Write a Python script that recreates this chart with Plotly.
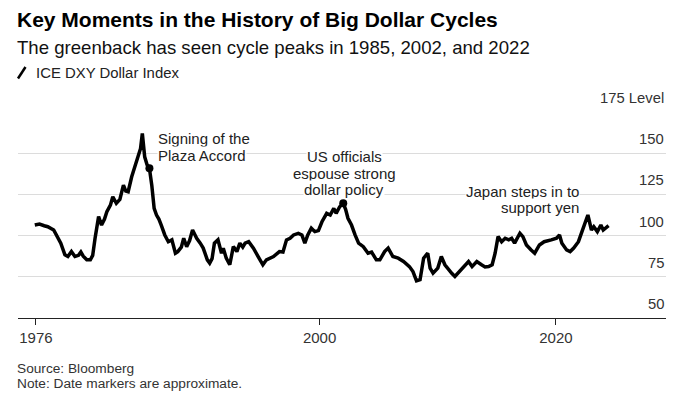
import plotly.graph_objects as go

# ---- data ----
years = [1975.9, 1976.3, 1976.7, 1977.0, 1977.5, 1977.9, 1978.1, 1978.45, 1978.7, 1979.0,
         1979.3, 1979.6, 1979.8, 1980.0, 1980.3, 1980.6, 1980.8, 1981.0, 1981.3, 1981.55,
         1981.8, 1982.0, 1982.3, 1982.5, 1982.8, 1983.1, 1983.4, 1983.6, 1983.8, 1984.1,
         1984.4, 1984.65, 1984.85, 1985.0, 1985.1, 1985.2, 1985.4, 1985.6, 1985.8, 1986.0,
         1986.2, 1986.4, 1986.6, 1986.9, 1987.2, 1987.5, 1987.8, 1988.0, 1988.3, 1988.5,
         1988.75, 1989.0, 1989.25, 1989.6, 1989.9, 1990.15, 1990.5, 1990.7, 1990.9, 1991.1,
         1991.4, 1991.7, 1991.85, 1992.1, 1992.4, 1992.7, 1993.0, 1993.25, 1993.5, 1993.7,
         1994.0, 1994.4, 1994.8, 1995.2, 1995.5, 1996.1, 1996.6, 1996.9, 1997.2, 1997.5,
         1997.8, 1998.2, 1998.5, 1998.75, 1999.0, 1999.3, 1999.6, 1999.9, 2000.2, 2000.6,
         2000.9, 2001.2, 2001.4, 2001.7, 2002.0, 2002.2, 2002.4, 2002.7, 2003.0, 2003.3,
         2003.7, 2004.1, 2004.4, 2004.8, 2005.1, 2005.5, 2005.8, 2006.2, 2006.65, 2007.1,
         2007.6, 2007.9, 2008.2, 2008.5, 2008.8, 2009.0, 2009.15, 2009.35, 2009.6, 2010.0,
         2010.3, 2010.6, 2010.9, 2011.2, 2011.45, 2011.7, 2012.15, 2012.6, 2012.9, 2013.3,
         2013.7, 2014.0, 2014.3, 2014.6, 2014.85, 2015.1, 2015.4, 2015.7, 2016.0, 2016.25,
         2016.5, 2016.95, 2017.2, 2017.5, 2017.9, 2018.2, 2018.6, 2019.0, 2019.6, 2020.05,
         2020.3, 2020.5, 2020.9, 2021.2, 2021.5, 2021.9, 2022.2, 2022.5, 2022.7, 2023.0,
         2023.2, 2023.5, 2023.8, 2024.0, 2024.3, 2024.45]
dxy = [106.4, 107.0, 106.0, 105.4, 103.4, 97.4, 95.4, 88.3, 87.3, 90.3,
       87.3, 88.0, 90.0, 87.5, 85.3, 85.3, 88.0, 98.4, 111.5, 106.4,
       110.0, 114.5, 118.5, 123.6, 119.6, 122.0, 130.6, 127.0, 126.6, 135.7,
       142.7, 148.8, 152.9, 162.0, 152.0, 147.8, 143.0, 140.8, 130.6, 116.5,
       112.5, 110.0, 106.4, 100.4, 96.3, 97.4, 89.3, 90.3, 93.0, 98.4,
       93.3, 97.0, 103.4, 98.4, 95.4, 92.4, 85.3, 83.3, 86.0, 95.4,
       97.4, 89.3, 92.4, 86.3, 82.3, 93.3, 90.3, 95.4, 93.0, 95.4,
       96.3, 92.4, 87.3, 82.3, 85.3, 87.3, 90.3, 90.0, 97.4, 98.4,
       100.4, 101.4, 100.4, 95.4, 100.4, 104.5, 102.4, 103.0, 108.4, 113.5,
       112.5, 116.5, 113.5, 117.5, 119.6, 116.0, 110.5, 106.4, 100.4, 95.4,
       93.3, 89.3, 90.0, 85.3, 85.3, 90.3, 92.4, 87.3, 86.3, 84.3,
       81.2, 78.2, 72.5, 73.2, 86.3, 88.3, 89.3, 80.3, 77.2, 80.3,
       87.3, 82.3, 79.2, 77.0, 75.2, 77.2, 80.3, 84.3, 81.2, 84.3,
       82.3, 81.0, 81.2, 82.3, 89.3, 99.4, 96.3, 98.4, 97.4, 98.4,
       95.4, 101.4, 99.4, 94.3, 91.3, 89.3, 94.3, 96.3, 97.4, 98.4,
       100.4, 95.4, 91.3, 90.3, 92.4, 96.3, 102.4, 108.4, 112.5, 103.4,
       105.4, 102.4, 106.4, 103.4, 105.4, 106.0]

event_years = [1985.6, 2002.0]
event_values = [140.8, 119.6]

y_ticks = [50, 75, 100, 125, 150, 175]
y_tick_text = ["50", "75", "100", "125", "150", "175 Level"]
x_ticks = [1976, 2000, 2020]
x_tick_text = ["1976", "2000", "2020"]

title = "Key Moments in the History of Big Dollar Cycles"
subtitle = "The greenback has seen cycle peaks in 1985, 2002, and 2022"
legend_label = "ICE DXY Dollar Index"
source_lines = ["Source: Bloomberg", "Note: Date markers are approximate."]

# ---- layout geometry ----
# The page body has an 8px default margin, so the figure is offset by OFF
# and every target pixel position is shifted accordingly.
OFF = 8
W, H = 680 - 2 * OFF, 397 - OFF
L, R, T, B = 18 - OFF, W - (666 - OFF), 112 - OFF, H - (318 - OFF)
PW = W - L - R
PH = H - T - B
FONT = "Liberation Sans, Arial, Helvetica, sans-serif"


def pxx(x):
    return (x - OFF - L) / PW


def pxy(y):
    return (H - B - (y - OFF)) / PH


fig = go.Figure()
fig.add_trace(go.Scatter(x=years, y=dxy, mode="lines",
                         line=dict(color="#000000", width=3.5),
                         hoverinfo="skip", showlegend=False))
fig.add_trace(go.Scatter(x=event_years, y=event_values, mode="markers",
                         marker=dict(color="#000000", size=8),
                         hoverinfo="skip", showlegend=False))

ann = []


def text(t, x, y, size, anchor="left", color="#000000", bg=None, bold=False):
    d = dict(text=("<b>%s</b>" % t) if bold else t, xref="paper", yref="paper",
             x=pxx(x), y=pxy(y), xanchor=anchor, yanchor="middle", showarrow=False,
             font=dict(family=FONT, size=size, color=color), borderpad=0)
    if bg:
        d["bgcolor"] = bg
    ann.append(d)


text(title, 16, 19, 21, bold=True)
text(subtitle, 16, 47.5, 18.6, color="#111111")
text(legend_label, 35, 73, 14.9, color="#222222")
text(source_lines[0], 16, 368, 13.7, color="#333333")
text(source_lines[1], 16, 383.5, 13.7, color="#333333")

# event annotations
text("Signing of the", 157, 138.5, 15, color="#222222", bg="white")
text("Plaza Accord", 157, 155, 15, color="#222222", bg="white")
text("US officials", 344, 156.5, 15, anchor="center", color="#222222", bg="white")
text("espouse strong", 344, 173, 15, anchor="center", color="#222222", bg="white")
text("dollar policy", 344, 189.5, 15, anchor="center", color="#222222", bg="white")
text("Japan steps in to", 580, 191.5, 15, anchor="right", color="#222222", bg="white")
text("support yen", 580, 207.5, 15, anchor="right", color="#222222", bg="white")

# y tick labels above gridlines
for v, t in zip(y_ticks, y_tick_text):
    ann.append(dict(text=t, xref="paper", yref="y", x=1.0, y=v, yshift=14,
                    xanchor="right", yanchor="middle", showarrow=False,
                    font=dict(family=FONT, size=14.8, color="#333333")))

shapes = [dict(type="line", xref="paper", yref="paper",
               x0=pxx(18), y0=pxy(78.5), x1=pxx(25.5), y1=pxy(67),
               line=dict(color="#000000", width=2.5))]

fig.update_layout(
    width=W, height=H,
    margin=dict(l=L, r=R, t=T, b=B, pad=0, autoexpand=False),
    paper_bgcolor="white", plot_bgcolor="white",
    showlegend=False,
    annotations=ann, shapes=shapes,
    xaxis=dict(range=[1974.48, 2029.31], tickvals=x_ticks, ticktext=x_tick_text,
               showgrid=False, zeroline=False, showline=True, linecolor="#222222",
               linewidth=1, ticks="outside", ticklen=6, tickcolor="#222222",
               tickfont=dict(family=FONT, size=15, color="#333333"),
               ticklabelstandoff=0, fixedrange=True, automargin=False),
    yaxis=dict(range=[50, 175], tickvals=y_ticks, showticklabels=False,
               showgrid=True, gridcolor="#dcdcdc", gridwidth=1, zeroline=False,
               showline=False, fixedrange=True, automargin=False),
)

fig.write_html("out.html")
